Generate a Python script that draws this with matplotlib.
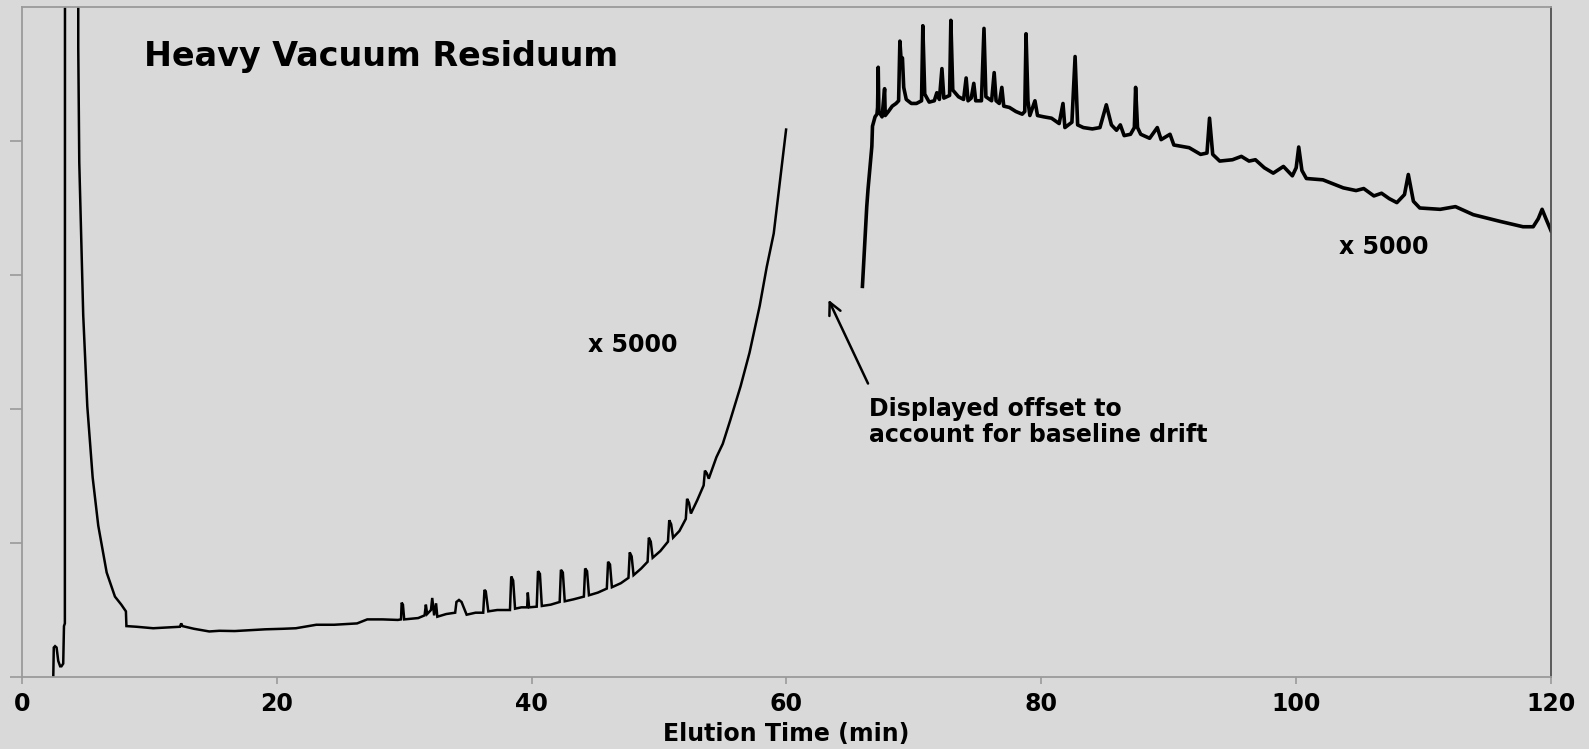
import numpy as np
import matplotlib.pyplot as plt

# chromatogram, part 1: solvent peak, early baseline, rising tail up to 60 min
t_early = [2.46, 2.50, 2.60, 2.72, 2.85, 3.00, 3.10, 3.24, 3.30, 3.37, 3.38,
           4.42, 4.42, 4.50, 4.63, 4.81, 5.13, 5.55, 5.99, 6.65, 7.30, 7.80, 8.16, 8.20,
           9.0, 10.3, 11.5, 12.4, 12.5, 12.6, 13.5, 14.7, 15.5, 16.7, 18.0, 19.1, 20.5,
           21.5, 23.1, 24.5, 26.3, 27.1, 28.3,
           29.5, 29.75, 29.8, 29.9, 30.0,
           31.1, 31.6, 31.7, 31.8, 32.1, 32.2, 32.35, 32.5, 32.6,
           33.3, 34.0, 34.1, 34.3, 34.5, 34.9, 35.6,
           36.2, 36.3, 36.4, 36.6, 37.3,
           38.3, 38.4, 38.55, 38.7, 39.2, 39.65, 39.7, 39.8,
           40.4, 40.5, 40.65, 40.8, 41.5,
           42.2, 42.3, 42.45, 42.6, 43.3,
           44.1, 44.2, 44.35, 44.5, 45.2,
           45.9, 46.0, 46.15, 46.3, 47.0,
           47.6, 47.7, 47.85, 48.0, 48.6,
           49.1, 49.2, 49.35, 49.5, 50.1,
           50.7, 50.8, 50.95, 51.1, 51.6,
           52.1, 52.2, 52.35, 52.5, 53.0,
           53.5, 53.6, 53.75, 53.9, 54.5, 55.0, 55.6, 56.4, 57.1, 57.9, 58.45,
           59.0, 59.5, 59.97]
y_early = [0.0, 0.22, 0.23, 0.22, 0.12, 0.08, 0.08, 0.10, 0.38, 0.40, 6.0,
           6.0, 4.70, 3.84, 3.35, 2.70, 2.02, 1.49, 1.13, 0.78, 0.60, 0.54, 0.49, 0.38,
           0.375, 0.364, 0.37, 0.375, 0.40, 0.38, 0.36, 0.34, 0.345, 0.343, 0.35, 0.356, 0.36,
           0.364, 0.39, 0.39, 0.40, 0.43, 0.43,
           0.426, 0.43, 0.555, 0.54, 0.43,
           0.44, 0.46, 0.54, 0.47, 0.50, 0.59, 0.46, 0.55, 0.45,
           0.47, 0.48, 0.56, 0.575, 0.56, 0.465, 0.48,
           0.48, 0.65, 0.64, 0.49, 0.50,
           0.50, 0.75, 0.72, 0.51, 0.52, 0.52, 0.63, 0.52,
           0.525, 0.79, 0.77, 0.53, 0.54,
           0.56, 0.80, 0.78, 0.565, 0.58,
           0.60, 0.81, 0.79, 0.61, 0.63,
           0.66, 0.86, 0.84, 0.67, 0.70,
           0.74, 0.93, 0.90, 0.76, 0.81,
           0.86, 1.04, 1.01, 0.89, 0.94,
           1.01, 1.17, 1.14, 1.04, 1.09,
           1.18, 1.33, 1.30, 1.22, 1.32,
           1.43, 1.54, 1.52, 1.48, 1.64, 1.74, 1.92, 2.17, 2.42, 2.77, 3.06,
           3.31, 3.71, 4.085]

# part 2: late eluting region, shown with an offset
t_late = [65.96, 66.3, 66.4, 66.7, 66.75, 66.95, 67.1, 67.15, 67.2, 67.25, 67.5, 67.7, 67.75,
          68.0, 68.3, 68.6, 68.8, 68.9, 69.0, 69.1, 69.2, 69.4, 69.8, 70.2, 70.6, 70.7,
          70.85, 71.2, 71.6, 71.8, 72.0, 72.2, 72.35, 72.8, 72.9, 73.05, 73.5, 73.9, 74.1,
          74.25, 74.5, 74.7, 74.85, 75.3, 75.5, 75.65, 76.1, 76.3, 76.45, 76.7, 76.9, 77.05,
          77.5, 78.0, 78.5, 78.7, 78.8, 78.95, 79.1, 79.5, 79.7, 80.2, 80.8, 81.4, 81.7,
          81.85, 82.4, 82.65, 82.85, 83.3, 84.0, 84.6, 85.1, 85.5, 85.9, 86.2, 86.5, 87.0,
          87.3, 87.4, 87.55, 87.8, 88.5, 89.1, 89.4, 90.1, 90.4, 91.0, 91.6, 92.5, 93.0,
          93.2, 93.45, 94.0, 95.0, 95.7, 96.3, 96.8, 97.5, 98.2, 99.0, 99.7, 100.0, 100.2,
          100.45, 100.8, 102.1, 103.7, 104.7, 105.3, 106.1, 106.7, 107.3, 107.9, 108.5,
          108.8, 109.2, 109.7, 111.3, 112.5, 113.9, 116.0, 117.8, 118.6, 119.0, 119.3,
          119.6, 120.0]
y_late = [2.915, 3.51, 3.64, 3.96, 4.11, 4.18, 4.20, 4.25, 4.55, 4.22, 4.18, 4.39, 4.19,
          4.22, 4.26, 4.28, 4.30, 4.745, 4.60, 4.62, 4.40, 4.31, 4.28, 4.28, 4.30, 4.86,
          4.35, 4.29, 4.30, 4.36, 4.31, 4.54, 4.32, 4.34, 4.90, 4.38, 4.33, 4.31, 4.47,
          4.30, 4.32, 4.43, 4.30, 4.30, 4.84, 4.33, 4.30, 4.51, 4.30, 4.28, 4.40, 4.26,
          4.25, 4.22, 4.20, 4.22, 4.80, 4.30, 4.19, 4.30, 4.19, 4.18, 4.17, 4.13, 4.28,
          4.10, 4.14, 4.63, 4.12, 4.10, 4.09, 4.10, 4.27, 4.12, 4.08, 4.12, 4.04, 4.05,
          4.10, 4.40, 4.10, 4.05, 4.02, 4.10, 4.01, 4.05, 3.97, 3.96, 3.95, 3.90, 3.91,
          4.17, 3.90, 3.85, 3.86, 3.885, 3.85, 3.86, 3.80, 3.76, 3.81, 3.74, 3.80, 3.955,
          3.78, 3.72, 3.71, 3.65, 3.63, 3.645, 3.59, 3.61, 3.57, 3.54, 3.60,
          3.75, 3.55, 3.50, 3.49, 3.51, 3.45, 3.40, 3.36, 3.36, 3.42, 3.49,
          3.42, 3.33]

x_ticks = [0, 20, 40, 60, 80, 100, 120]

bg = "#d9d9d9"
plt.rcParams['font.family'] = ['DejaVu Sans']
plt.rcParams['font.weight'] = 'bold'

fig = plt.figure(figsize=(15.89, 7.49), dpi=100, facecolor=bg)
ax = fig.add_axes([0.0138, 0.0961, 0.9623, 0.8946])
ax.set_facecolor(bg)

ax.plot(t_early, y_early, color="black", lw=1.8, solid_joinstyle="miter")
ax.plot(t_late, y_late, color="black", lw=2.6)

ax.set_xlim(0, 120)
ax.set_ylim(0, 5)
ax.set_xticks(x_ticks)
ax.set_yticks([0, 1, 2, 3, 4])
ax.set_yticklabels([])
ax.tick_params(axis="x", direction="out", length=5, width=1.2, color="#9a9a9a",
               labelsize=17, pad=6)
ax.tick_params(axis="y", direction="out", length=8.5, width=1.2, color="#9a9a9a")
for lbl in ax.get_xticklabels():
    lbl.set_fontweight("bold")

for side in ["left", "bottom", "top"]:
    ax.spines[side].set_color("#9a9a9a")
    ax.spines[side].set_linewidth(1.3)
ax.spines["right"].set_color("#505050")
ax.spines["right"].set_linewidth(1.3)

ax.set_xlabel("Elution Time (min)", fontsize=17, fontweight="bold", labelpad=4)

ax.text(9.6, 4.63, "Heavy Vacuum Residuum", fontsize=24, fontweight="bold",
        ha="left", va="center")
ax.text(44.4, 2.48, "x 5000", fontsize=17, fontweight="bold", ha="left", va="center")
ax.text(103.4, 3.21, "x 5000", fontsize=17, fontweight="bold", ha="left", va="center")

# note about the offset of the late trace, with its arrow
ax.text(66.5, 1.90, "Displayed offset to\naccount for baseline drift",
        fontsize=17, fontweight="bold", ha="left", va="center", linespacing=1.1)
ax.annotate("", xy=(63.3, 2.815), xytext=(66.4, 2.19),
            arrowprops=dict(arrowstyle="->", lw=1.8, color="black", mutation_scale=22,
                            shrinkA=0, shrinkB=0))

fig.savefig("out.png", dpi=100, facecolor=bg)
